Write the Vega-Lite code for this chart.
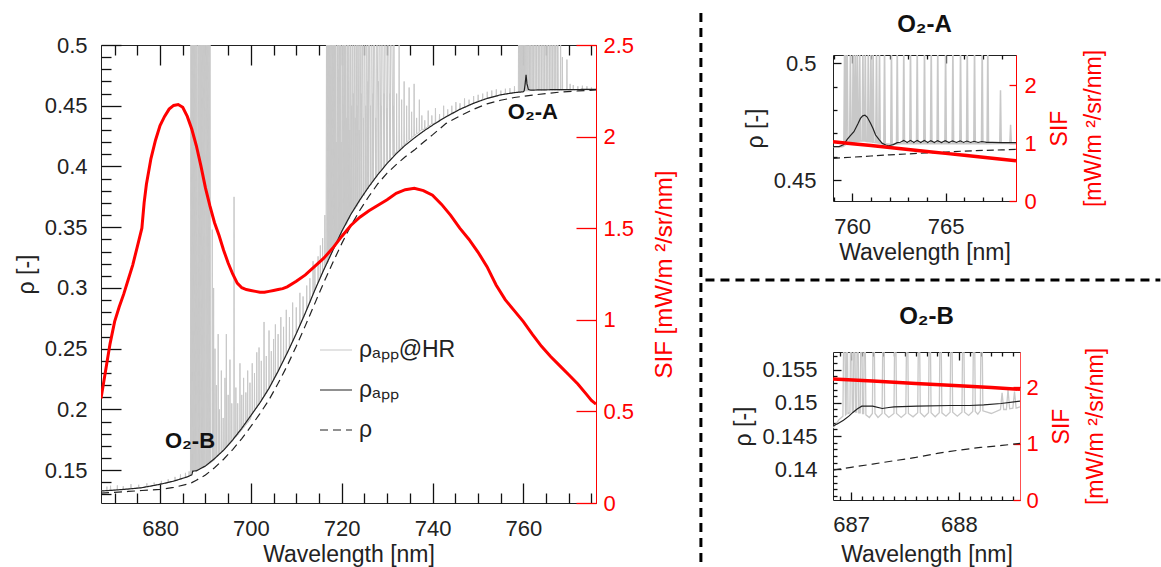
{
"$schema":"https://vega.github.io/schema/vega-lite/v6.json",
"background":"white",
"padding":{"left":14,"top":11,"right":0,"bottom":0},
"config":{"font":"Liberation Sans","view":{"stroke":"#222","strokeWidth":1},
"axis":{"labelFont":"Liberation Sans","titleFont":"Liberation Sans","labelFontSize":22,"titleFontSize":23,"labelColor":"#222","titleColor":"#222","titleFontWeight":"normal","tickColor":"#111","tickWidth":1.3,"tickOpacity":1,"grid":false,"labelFlush":false,"labelOverlap":false,"domain":false,"zindex":1},
"title":{"font":"Liberation Sans","fontSize":24,"fontWeight":"bold","color":"#111","anchor":"middle","frame":"group"}},
"datasets":{
"m_hr":[{"w":667.0,"v":0.1332},{"w":668.25,"v":0.1334},{"w":668.3,"v":0.1365},{"w":668.35,"v":0.1334},{"w":669.05,"v":0.1337},{"w":669.1,"v":0.1372},{"w":669.15,"v":0.1337},{"w":670.55,"v":0.1339},{"w":670.6,"v":0.1375},{"w":670.65,"v":0.1339},{"w":671.85,"v":0.1342},{"w":671.9,"v":0.1368},{"w":671.95,"v":0.1342},{"w":673.55,"v":0.1348},{"w":673.6,"v":0.1385},{"w":673.65,"v":0.1348},{"w":675.25,"v":0.1353},{"w":675.3,"v":0.138},{"w":675.35,"v":0.1353},{"w":677.05,"v":0.1363},{"w":677.1,"v":0.1392},{"w":677.15,"v":0.1363},{"w":678.65,"v":0.1373},{"w":678.7,"v":0.1398},{"w":678.75,"v":0.1374},{"w":680.25,"v":0.1387},{"w":680.3,"v":0.1412},{"w":680.35,"v":0.1387},{"w":681.75,"v":0.1399},{"w":681.8,"v":0.1425},{"w":681.85,"v":0.1399},{"w":683.25,"v":0.1413},{"w":683.3,"v":0.1445},{"w":683.35,"v":0.1413},{"w":684.45,"v":0.1426},{"w":684.5,"v":0.1465},{"w":684.55,"v":0.1427},{"w":685.55,"v":0.1441},{"w":685.6,"v":0.1478},{"w":685.65,"v":0.1442},{"w":686.35,"v":0.1451},{"w":686.4,"v":0.149},{"w":686.45,"v":0.1452},{"w":686.7,"v":0.1458},
{"w":686.8,"v":0.6},{"w":686.9,"v":0.148},{"w":686.95,"v":0.6},{"w":687.05,"v":0.149},{"w":687.1,"v":0.6},{"w":687.2,"v":0.149},{"w":687.25,"v":0.6},{"w":687.35,"v":0.149},{"w":687.4,"v":0.6},{"w":687.5,"v":0.1495},{"w":687.55,"v":0.6},{"w":687.65,"v":0.1495},{"w":687.72,"v":0.6},{"w":687.82,"v":0.1495},{"w":687.9,"v":0.6},{"w":688.0,"v":0.1497},{"w":688.1,"v":0.6},{"w":688.3,"v":0.15},{"w":688.4,"v":0.6},{"w":688.5,"v":0.1502},{"w":688.55,"v":0.6},{"w":688.7,"v":0.1505},{"w":688.75,"v":0.6},{"w":688.85,"v":0.151},{"w":688.95,"v":0.6},{"w":689.1,"v":0.1512},{"w":689.15,"v":0.6},{"w":689.3,"v":0.1515},{"w":689.35,"v":0.6},{"w":689.5,"v":0.152},{"w":689.55,"v":0.6},{"w":689.7,"v":0.1525},{"w":689.75,"v":0.6},{"w":689.9,"v":0.153},{"w":690.0,"v":0.6},{"w":690.15,"v":0.1535},{"w":690.2,"v":0.6},{"w":690.35,"v":0.154},{"w":690.4,"v":0.6},{"w":690.55,"v":0.1545},{"w":690.6,"v":0.6},{"w":690.75,"v":0.155},{"w":690.8,"v":0.6},{"w":690.95,"v":0.1555},{"w":691.0,"v":0.6},{"w":691.1,"v":0.156},
{"w":691.45,"v":0.1568},{"w":691.5,"v":0.348},{"w":691.55,"v":0.157},{"w":691.75,"v":0.1578},{"w":691.8,"v":0.3},{"w":691.85,"v":0.158},{"w":692.05,"v":0.1597},{"w":692.1,"v":0.25},{"w":692.15,"v":0.16},{"w":692.35,"v":0.1607},{"w":692.4,"v":0.22},{"w":692.45,"v":0.161},{"w":692.75,"v":0.1621},{"w":692.8,"v":0.262},{"w":692.85,"v":0.1623},{"w":693.05,"v":0.163},{"w":693.1,"v":0.2},{"w":693.15,"v":0.1632},{"w":693.45,"v":0.1645},{"w":693.5,"v":0.232},{"w":693.55,"v":0.1647},{"w":693.85,"v":0.166},{"w":693.9,"v":0.193},{"w":693.95,"v":0.1662},{"w":694.25,"v":0.1674},{"w":694.3,"v":0.226},{"w":694.35,"v":0.1676},{"w":694.55,"v":0.1684},{"w":694.6,"v":0.262},{"w":694.65,"v":0.1686},{"w":694.95,"v":0.1699},{"w":695.0,"v":0.212},{"w":695.05,"v":0.1701},{"w":695.35,"v":0.1716},{"w":695.4,"v":0.241},{"w":695.45,"v":0.1718},{"w":695.75,"v":0.1733},{"w":695.8,"v":0.205},{"w":695.85,"v":0.1735},{"w":696.25,"v":0.1756},{"w":696.3,"v":0.375},{"w":696.35,"v":0.1758},{"w":696.65,"v":0.1772},{"w":696.7,"v":0.218},{"w":696.75,"v":0.1774},{"w":697.05,"v":0.1789},{"w":697.1,"v":0.205},{"w":697.15,"v":0.1791},{"w":697.55,"v":0.1812},{"w":697.6,"v":0.238},{"w":697.65,"v":0.1814},{"w":697.95,"v":0.183},{"w":698.0,"v":0.212},{"w":698.05,"v":0.1833},{"w":698.35,"v":0.1849},{"w":698.4,"v":0.226},{"w":698.45,"v":0.1851},{"w":698.85,"v":0.1872},{"w":698.9,"v":0.214},{"w":698.95,"v":0.1875},{"w":699.25,"v":0.1891},{"w":699.3,"v":0.232},{"w":699.35,"v":0.1893},{"w":699.75,"v":0.1915},{"w":699.8,"v":0.222},{"w":699.85,"v":0.1917},{"w":700.25,"v":0.1963},{"w":700.3,"v":0.238},{"w":700.35,"v":0.1966},{"w":700.75,"v":0.199},{"w":700.8,"v":0.23},{"w":700.85,"v":0.1993},{"w":701.25,"v":0.2016},{"w":701.3,"v":0.247},{"w":701.35,"v":0.2019},{"w":701.75,"v":0.2043},{"w":701.8,"v":0.251},{"w":701.85,"v":0.2046},{"w":702.25,"v":0.207},{"w":702.3,"v":0.24},{"w":702.35,"v":0.2073},{"w":702.85,"v":0.2102},{"w":702.9,"v":0.272},{"w":702.95,"v":0.2105},{"w":703.35,"v":0.213},{"w":703.4,"v":0.244},{"w":703.45,"v":0.2133},{"w":703.95,"v":0.2167},{"w":704.0,"v":0.265},{"w":704.05,"v":0.2171},{"w":704.45,"v":0.22},{"w":704.5,"v":0.248},{"w":704.55,"v":0.2203},{"w":704.95,"v":0.2238},{"w":705.0,"v":0.258},{"w":705.05,"v":0.2241},{"w":705.35,"v":0.2266},{"w":705.4,"v":0.27},{"w":705.45,"v":0.2269},{"w":705.95,"v":0.2308},{"w":706.0,"v":0.262},{"w":706.05,"v":0.2311},{"w":706.55,"v":0.2355},{"w":706.6,"v":0.276},{"w":706.65,"v":0.2359},{"w":707.15,"v":0.24},{"w":707.2,"v":0.268},{"w":707.25,"v":0.2404},{"w":707.75,"v":0.2445},{"w":707.8,"v":0.282},{"w":707.85,"v":0.2449},{"w":708.45,"v":0.25},{"w":708.5,"v":0.276},{"w":708.55,"v":0.2504},{"w":709.15,"v":0.2555},{"w":709.2,"v":0.288},{"w":709.25,"v":0.2559},{"w":709.95,"v":0.262},{"w":710.0,"v":0.284},{"w":710.05,"v":0.2625},{"w":710.75,"v":0.2688},{"w":710.8,"v":0.296},{"w":710.85,"v":0.2692},{"w":711.45,"v":0.2745},{"w":711.5,"v":0.293},{"w":711.55,"v":0.275},{"w":712.25,"v":0.2817},{"w":712.3,"v":0.302},{"w":712.35,"v":0.2822},{"w":712.95,"v":0.2876},{"w":713.0,"v":0.308},{"w":713.05,"v":0.288},{"w":713.65,"v":0.2944},{"w":713.7,"v":0.322},{"w":713.75,"v":0.2949},{"w":714.05,"v":0.298},{"w":714.1,"v":0.318},{"w":714.15,"v":0.2985},{"w":714.75,"v":0.304},{"w":714.8,"v":0.326},{"w":714.85,"v":0.3045},{"w":715.25,"v":0.308},{"w":715.3,"v":0.335},{"w":715.35,"v":0.3085},{"w":715.75,"v":0.3123},{"w":715.8,"v":0.341},{"w":715.85,"v":0.3128},{"w":716.25,"v":0.3165},{"w":716.3,"v":0.36},{"w":716.35,"v":0.317},{"w":716.55,"v":0.319},
{"w":716.7,"v":0.6},{"w":716.8,"v":0.32},{"w":716.85,"v":0.6},{"w":716.95,"v":0.321},{"w":717.0,"v":0.6},{"w":717.1,"v":0.323},{"w":717.15,"v":0.55},{"w":717.25,"v":0.324},{"w":717.3,"v":0.6},{"w":717.42,"v":0.325},{"w":717.47,"v":0.6},{"w":717.6,"v":0.327},{"w":717.65,"v":0.45},{"w":717.75,"v":0.328},{"w":717.8,"v":0.6},{"w":717.92,"v":0.329},{"w":717.97,"v":0.6},{"w":718.1,"v":0.331},{"w":718.15,"v":0.5},{"w":718.25,"v":0.332},{"w":718.3,"v":0.6},{"w":718.42,"v":0.333},{"w":718.47,"v":0.6},{"w":718.6,"v":0.334},{"w":718.65,"v":0.6},{"w":718.8,"v":0.336},{"w":718.85,"v":0.42},{"w":718.95,"v":0.337},{"w":719.0,"v":0.6},{"w":719.15,"v":0.339},{"w":719.2,"v":0.6},{"w":719.35,"v":0.34},{"w":719.4,"v":0.48},{"w":719.5,"v":0.341},{"w":719.55,"v":0.6},{"w":719.7,"v":0.342},{"w":719.75,"v":0.6},{"w":719.9,"v":0.344},{"w":719.95,"v":0.42},{"w":720.05,"v":0.346},{"w":720.1,"v":0.6},{"w":720.25,"v":0.347},{"w":720.3,"v":0.6},{"w":720.45,"v":0.349},{"w":720.5,"v":0.45},{"w":720.6,"v":0.35},{"w":720.65,"v":0.6},{"w":720.8,"v":0.351},{"w":720.85,"v":0.6},{"w":721.0,"v":0.352},{"w":721.05,"v":0.44},{"w":721.15,"v":0.353},{"w":721.2,"v":0.6},{"w":721.35,"v":0.355},{"w":721.4,"v":0.47},{"w":721.5,"v":0.356},{"w":721.55,"v":0.6},{"w":721.75,"v":0.357},{"w":721.8,"v":0.43},{"w":721.9,"v":0.359},{"w":721.95,"v":0.6},{"w":722.15,"v":0.361},{"w":722.2,"v":0.45},{"w":722.3,"v":0.362},{"w":722.35,"v":0.6},{"w":722.55,"v":0.363},{"w":722.6,"v":0.46},{"w":722.7,"v":0.364},{"w":722.75,"v":0.6},{"w":722.95,"v":0.365},{"w":723.0,"v":0.44},{"w":723.1,"v":0.366},{"w":723.15,"v":0.6},{"w":723.35,"v":0.367},{"w":723.4,"v":0.45},{"w":723.5,"v":0.368},{"w":723.55,"v":0.6},{"w":723.8,"v":0.37},{"w":723.85,"v":0.43},{"w":723.95,"v":0.371},{"w":724.0,"v":0.6},{"w":724.25,"v":0.373},{"w":724.3,"v":0.46},{"w":724.4,"v":0.374},{"w":724.45,"v":0.6},{"w":724.75,"v":0.376},{"w":724.8,"v":0.44},{"w":724.9,"v":0.376},{"w":724.95,"v":0.6},{"w":725.25,"v":0.379},{"w":725.3,"v":0.45},{"w":725.4,"v":0.38},{"w":725.45,"v":0.6},{"w":725.75,"v":0.382},{"w":725.8,"v":0.47},{"w":725.9,"v":0.382},{"w":725.95,"v":0.6},{"w":726.3,"v":0.385},{"w":726.35,"v":0.45},{"w":726.45,"v":0.385},{"w":726.5,"v":0.6},{"w":726.85,"v":0.388},{"w":726.9,"v":0.46},{"w":727.0,"v":0.389},{"w":727.05,"v":0.6},{"w":727.45,"v":0.391},{"w":727.5,"v":0.44},{"w":727.6,"v":0.392},{"w":727.65,"v":0.6},{"w":728.05,"v":0.394},{"w":728.1,"v":0.47},{"w":728.2,"v":0.395},{"w":728.25,"v":0.6},{"w":728.65,"v":0.397},{"w":728.7,"v":0.45},{"w":728.8,"v":0.398},{"w":728.85,"v":0.6},{"w":729.3,"v":0.4},{"w":729.35,"v":0.46},{"w":729.45,"v":0.401},{"w":729.5,"v":0.6},{"w":729.95,"v":0.403},{"w":730.0,"v":0.448},{"w":730.1,"v":0.404},{"w":730.15,"v":0.6},{"w":730.6,"v":0.406},{"w":730.65,"v":0.46},{"w":730.75,"v":0.407},{"w":730.8,"v":0.6},{"w":731.3,"v":0.409},{"w":731.35,"v":0.45},{"w":731.45,"v":0.409},{"w":731.5,"v":0.52},{"w":731.6,"v":0.41},{"w":732.05,"v":0.412},{"w":732.1,"v":0.46},{"w":732.15,"v":0.412},{"w":732.6,"v":0.414},{"w":732.65,"v":0.5},{"w":732.7,"v":0.414},{"w":733.15,"v":0.416},{"w":733.2,"v":0.455},{"w":733.25,"v":0.416},{"w":733.7,"v":0.418},{"w":733.75,"v":0.47},{"w":733.8,"v":0.418},{"w":734.25,"v":0.42},{"w":734.3,"v":0.45},{"w":734.35,"v":0.42},{"w":734.8,"v":0.422},{"w":734.85,"v":0.465},{"w":734.9,"v":0.422},{"w":735.35,"v":0.423},{"w":735.4,"v":0.445},{"w":735.45,"v":0.424},{"w":735.9,"v":0.425},{"w":735.95,"v":0.468},{"w":736.0,"v":0.425},{"w":736.45,"v":0.427},{"w":736.5,"v":0.44},{"w":736.55,"v":0.427},{"w":737.05,"v":0.428},{"w":737.1,"v":0.455},{"w":737.15,"v":0.429},{"w":737.6,"v":0.43},{"w":737.65,"v":0.442},{"w":737.7,"v":0.43},
{"w":738.25,"v":0.431},{"w":738.3,"v":0.438},{"w":738.35,"v":0.431},{"w":739.0,"v":0.433},{"w":739.05,"v":0.446},{"w":739.1,"v":0.433},{"w":739.8,"v":0.435},{"w":739.85,"v":0.442},{"w":739.9,"v":0.435},{"w":740.6,"v":0.436},{"w":740.65,"v":0.448},{"w":740.7,"v":0.436},{"w":741.5,"v":0.438},{"w":741.55,"v":0.443},{"w":741.6,"v":0.438},{"w":742.4,"v":0.44},{"w":742.45,"v":0.45},{"w":742.5,"v":0.44},{"w":743.3,"v":0.4415},{"w":743.35,"v":0.447},{"w":743.4,"v":0.4415},{"w":744.2,"v":0.443},{"w":744.25,"v":0.45},{"w":744.3,"v":0.443},{"w":745.1,"v":0.445},{"w":745.15,"v":0.453},{"w":745.2,"v":0.445},{"w":746.0,"v":0.447},{"w":746.05,"v":0.452},{"w":746.1,"v":0.447},{"w":747.0,"v":0.4485},{"w":747.05,"v":0.456},{"w":747.1,"v":0.4485},{"w":748.0,"v":0.45},{"w":748.05,"v":0.455},{"w":748.1,"v":0.45},{"w":749.0,"v":0.452},{"w":749.05,"v":0.458},{"w":749.1,"v":0.452},{"w":750.0,"v":0.4535},{"w":750.05,"v":0.459},{"w":750.1,"v":0.4535},{"w":751.0,"v":0.455},{"w":751.05,"v":0.46},{"w":751.1,"v":0.455},{"w":752.0,"v":0.456},{"w":752.05,"v":0.4615},{"w":752.1,"v":0.456},{"w":753.0,"v":0.457},{"w":753.05,"v":0.4625},{"w":753.1,"v":0.457},{"w":754.0,"v":0.458},{"w":754.05,"v":0.4635},{"w":754.1,"v":0.458},{"w":755.0,"v":0.459},{"w":755.05,"v":0.4625},{"w":755.1,"v":0.459},{"w":756.0,"v":0.4595},{"w":756.05,"v":0.464},{"w":756.1,"v":0.4595},{"w":757.0,"v":0.46},{"w":757.05,"v":0.4645},{"w":757.1,"v":0.46},{"w":758.0,"v":0.4605},{"w":758.05,"v":0.466},{"w":758.1,"v":0.4607},{"w":758.9,"v":0.461},
{"w":759.0,"v":0.6},{"w":759.1,"v":0.461},{"w":759.2,"v":0.6},{"w":759.3,"v":0.461},{"w":759.4,"v":0.6},{"w":759.5,"v":0.4615},{"w":759.6,"v":0.6},{"w":759.7,"v":0.462},{"w":759.8,"v":0.6},{"w":759.9,"v":0.462},{"w":760.0,"v":0.6},{"w":760.1,"v":0.462},{"w":760.2,"v":0.6},{"w":760.3,"v":0.462},{"w":760.4,"v":0.6},{"w":760.55,"v":0.462},{"w":760.65,"v":0.6},{"w":760.8,"v":0.462},{"w":760.9,"v":0.6},{"w":761.05,"v":0.462},{"w":761.15,"v":0.6},{"w":761.35,"v":0.462},{"w":761.45,"v":0.6},{"w":761.65,"v":0.4625},{"w":761.75,"v":0.6},{"w":761.95,"v":0.4625},{"w":762.05,"v":0.6},{"w":762.25,"v":0.4625},{"w":762.35,"v":0.6},{"w":762.6,"v":0.4625},{"w":762.7,"v":0.6},{"w":762.95,"v":0.4625},{"w":763.05,"v":0.6},{"w":763.3,"v":0.4625},{"w":763.4,"v":0.6},{"w":763.65,"v":0.4625},{"w":763.75,"v":0.6},{"w":764.0,"v":0.4625},{"w":764.1,"v":0.6},{"w":764.35,"v":0.4625},{"w":764.45,"v":0.6},{"w":764.7,"v":0.4625},{"w":764.8,"v":0.6},{"w":765.05,"v":0.4625},{"w":765.15,"v":0.6},{"w":765.4,"v":0.4625},{"w":765.5,"v":0.6},{"w":765.75,"v":0.4625},{"w":765.85,"v":0.6},{"w":766.1,"v":0.4625},{"w":766.2,"v":0.6},{"w":766.45,"v":0.4625},{"w":766.55,"v":0.6},{"w":766.8,"v":0.4625},{"w":766.9,"v":0.6},{"w":767.15,"v":0.4625},{"w":767.25,"v":0.6},{"w":767.5,"v":0.4625},{"w":767.55,"v":0.6},{"w":767.7,"v":0.4625},{"w":768.15,"v":0.4627},{"w":768.2,"v":0.6},{"w":768.25,"v":0.4627},{"w":768.55,"v":0.4628},{"w":768.6,"v":0.49},{"w":768.65,"v":0.4628},{"w":769.55,"v":0.463},{"w":769.6,"v":0.488},{"w":769.65,"v":0.463},{"w":770.25,"v":0.463},{"w":770.3,"v":0.468},{"w":770.35,"v":0.463},{"w":770.95,"v":0.463},{"w":771.0,"v":0.467},{"w":771.05,"v":0.463},{"w":771.95,"v":0.463},{"w":772.0,"v":0.466},{"w":772.05,"v":0.463},{"w":772.95,"v":0.463},{"w":773.0,"v":0.4665},{"w":773.05,"v":0.463},{"w":773.95,"v":0.463},{"w":774.0,"v":0.466},{"w":774.05,"v":0.463},{"w":774.95,"v":0.463},{"w":775.0,"v":0.465},{"w":775.05,"v":0.463},{"w":776.0,"v":0.463}],
"m_app":[{"s":"A","w":667,"v":0.1329},{"s":"A","w":670,"v":0.1336},{"s":"A","w":673,"v":0.1345},{"s":"A","w":676,"v":0.1356},{"s":"A","w":680,"v":0.1384},{"s":"A","w":683,"v":0.141},{"s":"A","w":686,"v":0.1445},{"s":"A","w":687,"v":0.1462},{"s":"A","w":687.2,"v":0.1492},{"s":"A","w":688,"v":0.1495},{"s":"A","w":690,"v":0.1535},{"s":"A","w":692,"v":0.1595},{"s":"A","w":694,"v":0.1665},{"s":"A","w":696,"v":0.175},{"s":"A","w":698,"v":0.1845},{"s":"A","w":700,"v":0.195},{"s":"A","w":702,"v":0.2055},{"s":"A","w":704,"v":0.2175},{"s":"A","w":706,"v":0.2315},{"s":"A","w":708,"v":0.2465},{"s":"A","w":710,"v":0.2625},{"s":"A","w":712,"v":0.2795},{"s":"A","w":714,"v":0.2975},{"s":"A","w":716,"v":0.3145},{"s":"A","w":718,"v":0.3305},{"s":"A","w":720,"v":0.3465},{"s":"A","w":722,"v":0.3605},{"s":"A","w":724,"v":0.3725},{"s":"A","w":726,"v":0.3835},{"s":"A","w":728,"v":0.3935},{"s":"A","w":730,"v":0.4025},{"s":"A","w":732,"v":0.4105},{"s":"A","w":734,"v":0.4175},{"s":"A","w":736,"v":0.4235},{"s":"A","w":738,"v":0.429},{"s":"A","w":740,"v":0.434},{"s":"A","w":743,"v":0.441},{"s":"A","w":746,"v":0.447},{"s":"A","w":749,"v":0.452},{"s":"A","w":752,"v":0.456},{"s":"A","w":755,"v":0.459},{"s":"A","w":758,"v":0.4608},{"s":"A","w":760,"v":0.4615},{"s":"A","w":760.2,"v":0.4625},{"s":"A","w":760.4,"v":0.468},{"s":"A","w":760.6,"v":0.4755},{"s":"A","w":760.8,"v":0.468},{"s":"A","w":761.1,"v":0.4635},{"s":"A","w":761.6,"v":0.4628},{"s":"A","w":763,"v":0.463},{"s":"A","w":766,"v":0.4632},{"s":"A","w":770,"v":0.4633},{"s":"A","w":776,"v":0.4635}],
"m_rho":[{"s":"R","w":667,"v":0.1312},{"s":"R","w":670,"v":0.1318},{"s":"R","w":673,"v":0.1325},{"s":"R","w":676,"v":0.1333},{"s":"R","w":680,"v":0.1342},{"s":"R","w":683,"v":0.1358},{"s":"R","w":686,"v":0.1385},{"s":"R","w":687,"v":0.1398},{"s":"R","w":688,"v":0.1418},{"s":"R","w":690,"v":0.146},{"s":"R","w":692,"v":0.152},{"s":"R","w":694,"v":0.159},{"s":"R","w":696,"v":0.167},{"s":"R","w":698,"v":0.176},{"s":"R","w":700,"v":0.186},{"s":"R","w":702,"v":0.1965},{"s":"R","w":704,"v":0.208},{"s":"R","w":706,"v":0.2215},{"s":"R","w":708,"v":0.236},{"s":"R","w":710,"v":0.252},{"s":"R","w":712,"v":0.269},{"s":"R","w":714,"v":0.2865},{"s":"R","w":716,"v":0.304},{"s":"R","w":718,"v":0.3205},{"s":"R","w":720,"v":0.3365},{"s":"R","w":722,"v":0.351},{"s":"R","w":724,"v":0.364},{"s":"R","w":726,"v":0.3755},{"s":"R","w":728,"v":0.386},{"s":"R","w":730,"v":0.3945},{"s":"R","w":732,"v":0.4015},{"s":"R","w":734,"v":0.408},{"s":"R","w":736,"v":0.4135},{"s":"R","w":738,"v":0.42},{"s":"R","w":740,"v":0.426},{"s":"R","w":743,"v":0.4355},{"s":"R","w":746,"v":0.4415},{"s":"R","w":749,"v":0.447},{"s":"R","w":752,"v":0.4515},{"s":"R","w":755,"v":0.4545},{"s":"R","w":758,"v":0.4568},{"s":"R","w":760,"v":0.4578},{"s":"R","w":762,"v":0.4588},{"s":"R","w":765,"v":0.46},{"s":"R","w":768,"v":0.4612},{"s":"R","w":772,"v":0.4622},{"s":"R","w":776,"v":0.463}],
"m_sif":[{"w":667,"f":0.57},{"w":668,"f":0.72},{"w":669,"f":0.87},{"w":670,"f":0.99},{"w":671,"f":1.07},{"w":672,"f":1.14},{"w":673,"f":1.22},{"w":674,"f":1.3},{"w":675,"f":1.4},{"w":676,"f":1.5},{"w":676.5,"f":1.64},{"w":677,"f":1.74},{"w":678,"f":1.88},{"w":679,"f":1.98},{"w":680,"f":2.06},{"w":681,"f":2.11},{"w":682,"f":2.15},{"w":683,"f":2.17},{"w":684,"f":2.175},{"w":685,"f":2.16},{"w":686,"f":2.11},{"w":687,"f":2.04},{"w":688,"f":1.95},{"w":689,"f":1.84},{"w":690,"f":1.72},{"w":691,"f":1.62},{"w":692,"f":1.53},{"w":693,"f":1.46},{"w":694,"f":1.38},{"w":695,"f":1.31},{"w":696,"f":1.25},{"w":697,"f":1.2},{"w":698,"f":1.175},{"w":699,"f":1.165},{"w":700,"f":1.16},{"w":701,"f":1.155},{"w":702,"f":1.15},{"w":703,"f":1.15},{"w":704,"f":1.155},{"w":705,"f":1.16},{"w":706,"f":1.165},{"w":707,"f":1.17},{"w":708,"f":1.18},{"w":710,"f":1.21},{"w":712,"f":1.245},{"w":714,"f":1.29},{"w":716,"f":1.335},{"w":718,"f":1.39},{"w":720,"f":1.455},{"w":722,"f":1.515},{"w":724,"f":1.56},{"w":726,"f":1.595},{"w":728,"f":1.625},{"w":730,"f":1.655},{"w":732,"f":1.69},{"w":734,"f":1.71},{"w":736,"f":1.718},{"w":738,"f":1.705},{"w":740,"f":1.68},{"w":742,"f":1.63},{"w":744,"f":1.57},{"w":746,"f":1.5},{"w":748,"f":1.44},{"w":750,"f":1.37},{"w":752,"f":1.29},{"w":754,"f":1.19},{"w":756,"f":1.11},{"w":758,"f":1.05},{"w":760,"f":0.99},{"w":762,"f":0.92},{"w":764,"f":0.855},{"w":766,"f":0.8},{"w":768,"f":0.75},{"w":770,"f":0.7},{"w":772,"f":0.65},{"w":774,"f":0.59},{"w":775,"f":0.56},{"w":776,"f":0.54}],
"m_lab":[{"w":762.1,"v":0.445,"t":"O₂-A"},{"w":686.6,"v":0.174,"t":"O₂-B"}],
"a_hr":[{"w":758.97,"v":0.4643},{"w":759.45,"v":0.4643},{"w":759.55,"v":0.4645},{"w":759.59,"v":0.51},{"w":759.62,"v":0.4647},{"w":759.63,"v":0.51},{"w":759.67,"v":0.4649},{"w":759.73,"v":0.51},{"w":759.77,"v":0.4653},{"w":759.86,"v":0.4656},{"w":759.9,"v":0.51},{"w":759.94,"v":0.4658},{"w":760.01,"v":0.466},{"w":760.05,"v":0.51},{"w":760.09,"v":0.4663},{"w":760.12,"v":0.4663},{"w":760.16,"v":0.51},{"w":760.2,"v":0.4665},{"w":760.23,"v":0.4665},{"w":760.27,"v":0.51},{"w":760.31,"v":0.4666},{"w":760.36,"v":0.4666},{"w":760.4,"v":0.51},{"w":760.44,"v":0.4667},{"w":760.53,"v":0.4667},{"w":760.57,"v":0.51},{"w":760.61,"v":0.4667},{"w":760.66,"v":0.4667},{"w":760.7,"v":0.51},{"w":760.74,"v":0.4666},{"w":760.82,"v":0.4665},{"w":760.86,"v":0.51},{"w":760.9,"v":0.4665},{"w":760.96,"v":0.4664},{"w":761.0,"v":0.51},{"w":761.04,"v":0.4663},{"w":761.08,"v":0.4662},{"w":761.12,"v":0.51},{"w":761.16,"v":0.4661},{"w":761.26,"v":0.466},{"w":761.3,"v":0.51},{"w":761.34,"v":0.4659},{"w":761.42,"v":0.4658},{"w":761.46,"v":0.51},{"w":761.5,"v":0.4657},{"w":761.69,"v":0.4655},{"w":761.73,"v":0.51},{"w":761.77,"v":0.4655},{"w":762.06,"v":0.4653},{"w":762.1,"v":0.51},{"w":762.14,"v":0.4653},{"w":762.37,"v":0.4655},{"w":762.41,"v":0.51},{"w":762.45,"v":0.4655},{"w":762.72,"v":0.4656},{"w":762.76,"v":0.51},{"w":762.8,"v":0.4656},{"w":763.08,"v":0.4656},{"w":763.12,"v":0.51},{"w":763.16,"v":0.4656},{"w":763.44,"v":0.4656},{"w":763.48,"v":0.51},{"w":763.52,"v":0.4656},{"w":763.83,"v":0.4656},{"w":763.87,"v":0.51},{"w":763.91,"v":0.4656},{"w":764.19,"v":0.4656},{"w":764.23,"v":0.51},{"w":764.27,"v":0.4656},{"w":764.54,"v":0.4656},{"w":764.58,"v":0.51},{"w":764.62,"v":0.4656},{"w":764.96,"v":0.4656},{"w":765.0,"v":0.51},{"w":765.04,"v":0.4656},{"w":765.35,"v":0.4656},{"w":765.39,"v":0.51},{"w":765.43,"v":0.4656},{"w":765.76,"v":0.4656},{"w":765.8,"v":0.51},{"w":765.84,"v":0.4656},{"w":766.12,"v":0.4656},{"w":766.16,"v":0.51},{"w":766.2,"v":0.4656},{"w":766.51,"v":0.4656},{"w":766.55,"v":0.51},{"w":766.59,"v":0.4656},{"w":766.92,"v":0.4656},{"w":766.96,"v":0.51},{"w":767.0,"v":0.4656},{"w":767.22,"v":0.4656},{"w":767.26,"v":0.51},{"w":767.3,"v":0.4656},{"w":767.9,"v":0.4657},{"w":767.94,"v":0.4885},{"w":767.98,"v":0.4657},{"w":768.44,"v":0.4657},{"w":768.48,"v":0.4737},{"w":768.52,"v":0.4657},{"w":768.77,"v":0.4657}],
"a_app":[{"w":758.97,"v":0.4643},{"w":759.3,"v":0.4643},{"w":759.55,"v":0.4652},{"w":759.73,"v":0.4674},{"w":759.9,"v":0.469},{"w":760.09,"v":0.4707},{"w":760.3,"v":0.474},{"w":760.44,"v":0.4764},{"w":760.56,"v":0.4775},{"w":760.68,"v":0.4778},{"w":760.8,"v":0.477},{"w":760.98,"v":0.4743},{"w":761.12,"v":0.472},{"w":761.25,"v":0.4693},{"w":761.45,"v":0.4672},{"w":761.61,"v":0.4657},{"w":761.8,"v":0.465},{"w":761.96,"v":0.4647},{"w":762.2,"v":0.4652},{"w":762.41,"v":0.466},{"w":762.58,"v":0.4662},{"w":762.76,"v":0.467},{"w":762.94,"v":0.4661},{"w":763.12,"v":0.467},{"w":763.3,"v":0.4661},{"w":763.48,"v":0.467},{"w":763.67,"v":0.4661},{"w":763.86,"v":0.467},{"w":764.04,"v":0.4661},{"w":764.21,"v":0.4669},{"w":764.4,"v":0.4661},{"w":764.57,"v":0.4669},{"w":764.78,"v":0.4661},{"w":764.98,"v":0.4669},{"w":765.18,"v":0.4661},{"w":765.37,"v":0.4668},{"w":765.58,"v":0.4661},{"w":765.78,"v":0.4668},{"w":765.96,"v":0.4661},{"w":766.14,"v":0.4667},{"w":766.34,"v":0.4661},{"w":766.53,"v":0.4666},{"w":766.74,"v":0.4661},{"w":766.94,"v":0.4665},{"w":767.2,"v":0.4661},{"w":767.5,"v":0.4661},{"w":768.0,"v":0.466},{"w":768.77,"v":0.466}],
"a_rho":[{"w":758.97,"v":0.4593},{"w":760,"v":0.4598},{"w":761,"v":0.4603},{"w":762,"v":0.4608},{"w":763,"v":0.4612},{"w":764,"v":0.4616},{"w":765,"v":0.462},{"w":766,"v":0.4624},{"w":767,"v":0.4627},{"w":768,"v":0.4629},{"w":768.77,"v":0.4631}],
"a_sif":[{"w":758.97,"f":1.024},{"w":760,"f":0.99},{"w":761,"f":0.956},{"w":762,"f":0.922},{"w":763,"f":0.889},{"w":764,"f":0.855},{"w":765,"f":0.822},{"w":766,"f":0.788},{"w":767,"f":0.755},{"w":768,"f":0.722},{"w":768.77,"f":0.696}],
"b_hr":[{"w":686.833,"v":0.1462},{"w":686.86,"v":0.1468},{"w":686.89,"v":0.1475},{"w":686.925,"v":0.148},{"w":686.937,"v":0.17},{"w":686.949,"v":0.1482},{"w":686.955,"v":0.1483},{"w":686.962,"v":0.17},{"w":686.972,"v":0.1484},{"w":686.99,"v":0.1485},{"w":687.0,"v":0.17},{"w":687.012,"v":0.1486},{"w":687.022,"v":0.1486},{"w":687.03,"v":0.17},{"w":687.042,"v":0.1486},{"w":687.052,"v":0.1486},{"w":687.06,"v":0.17},{"w":687.072,"v":0.1485},{"w":687.085,"v":0.1485},{"w":687.095,"v":0.17},{"w":687.107,"v":0.1484},{"w":687.117,"v":0.1484},{"w":687.126,"v":0.17},{"w":687.138,"v":0.1482},{"w":687.17,"v":0.1478},{"w":687.198,"v":0.1484},{"w":687.21,"v":0.17},{"w":687.222,"v":0.1484},{"w":687.25,"v":0.1478},{"w":687.288,"v":0.1484},{"w":687.3,"v":0.17},{"w":687.312,"v":0.1484},{"w":687.35,"v":0.1478},{"w":687.398,"v":0.1484},{"w":687.41,"v":0.17},{"w":687.422,"v":0.1484},{"w":687.465,"v":0.1478},{"w":687.508,"v":0.1484},{"w":687.52,"v":0.17},{"w":687.532,"v":0.1484},{"w":687.575,"v":0.1479},{"w":687.618,"v":0.1485},{"w":687.63,"v":0.17},{"w":687.642,"v":0.1485},{"w":687.68,"v":0.1479},{"w":687.718,"v":0.1485},{"w":687.73,"v":0.17},{"w":687.742,"v":0.1485},{"w":687.78,"v":0.1479},{"w":687.818,"v":0.1485},{"w":687.83,"v":0.17},{"w":687.842,"v":0.1485},{"w":687.88,"v":0.148},{"w":687.918,"v":0.1486},{"w":687.93,"v":0.17},{"w":687.942,"v":0.1486},{"w":687.985,"v":0.148},{"w":688.028,"v":0.1486},{"w":688.04,"v":0.17},{"w":688.052,"v":0.1486},{"w":688.09,"v":0.1481},{"w":688.128,"v":0.1487},{"w":688.14,"v":0.17},{"w":688.152,"v":0.1487},{"w":688.175,"v":0.1483},{"w":688.198,"v":0.1488},{"w":688.21,"v":0.17},{"w":688.222,"v":0.1488},{"w":688.3,"v":0.1484},{"w":688.385,"v":0.149},{"w":688.4,"v":0.1515},{"w":688.415,"v":0.149},{"w":688.44,"v":0.149},{"w":688.455,"v":0.152},{"w":688.47,"v":0.1491},{"w":688.5,"v":0.1492},{"w":688.515,"v":0.1517},{"w":688.53,"v":0.1492},{"w":688.566,"v":0.1494}],
"b_app":[{"w":686.833,"v":0.14654},{"w":686.88,"v":0.1469},{"w":686.93,"v":0.1474},{"w":686.98,"v":0.148},{"w":687.02,"v":0.1486},{"w":687.06,"v":0.1491},{"w":687.1,"v":0.1495},{"w":687.2,"v":0.1495},{"w":687.29,"v":0.14915},{"w":687.35,"v":0.1493},{"w":687.4,"v":0.1494},{"w":687.61,"v":0.1495},{"w":687.92,"v":0.1496},{"w":688.1,"v":0.1496},{"w":688.23,"v":0.1497},{"w":688.39,"v":0.1499},{"w":688.566,"v":0.15025}],
"b_rho":[{"w":686.833,"v":0.1399},{"w":687.0,"v":0.1403},{"w":687.2,"v":0.1408},{"w":687.4,"v":0.1413},{"w":687.6,"v":0.1418},{"w":687.8,"v":0.1424},{"w":688.0,"v":0.1429},{"w":688.2,"v":0.1433},{"w":688.4,"v":0.1436},{"w":688.566,"v":0.1439}],
"b_sif":[{"w":686.833,"f":2.149},{"w":687.2,"f":2.115},{"w":687.6,"f":2.07},{"w":688.0,"f":2.03},{"w":688.3,"f":2.0},{"w":688.566,"f":1.966}]
},
"spacing":0,
"bounds":"full",
"hconcat":[
{
"width":495,"height":458,
"resolve":{"scale":{"y":"independent"},"axis":{"x":"independent","y":"independent"}},
"layer":[
{"data":{"name":"m_hr"},"mark":{"type":"line","clip":true,"strokeWidth":1,"color":"#c8c8c8"},
"encoding":{
"x":{"field":"w","type":"quantitative","scale":{"domain":[667,776],"nice":false,"zero":false},"axis":{"orient":"bottom","values":[680,700,720,740,760],"offset":-20,"tickSize":20,"labelPadding":15,"title":"Wavelength [nm]","titlePadding":4,"format":"d"}},
"y":{"field":"v","type":"quantitative","scale":{"domain":[0.123,0.5],"nice":false,"zero":false},"axis":{"orient":"left","values":[0.15,0.2,0.25,0.3,0.35,0.4,0.45,0.5],"offset":-20,"tickSize":20,"labelPadding":14,"title":"ρ [-]","titlePadding":6,"format":".2~f"}}}},
{"data":{"name":"m_app"},"mark":{"type":"line","clip":true,"strokeWidth":1.2},
"encoding":{
"x":{"field":"w","type":"quantitative","scale":{"domain":[667,776],"nice":false,"zero":false},"axis":{"orient":"bottom","values":[670,675,685,690,695,705,710,715,725,730,735,745,750,755,765,770,775],"offset":-10,"tickSize":10,"labels":false,"title":null}},
"y":{"field":"v","type":"quantitative","scale":{"domain":[0.123,0.5],"nice":false,"zero":false},"axis":{"orient":"left","values":[0.13,0.14,0.16,0.17,0.18,0.19,0.21,0.22,0.23,0.24,0.26,0.27,0.28,0.29,0.31,0.32,0.33,0.34,0.36,0.37,0.38,0.39,0.41,0.42,0.43,0.44,0.46,0.47,0.48,0.49],"offset":-10,"tickSize":10,"labels":false,"title":null}},
"color":{"field":"s","type":"nominal","scale":{"domain":["H","A","R"],"range":["#c8c8c8","#222222","#222222"]},"legend":{"orient":"none","legendX":218,"legendY":288,"title":null,"symbolType":"stroke","symbolSize":1024,"symbolStrokeWidth":1.2,"labelFontSize":23,"labelFont":"Liberation Sans","labelColor":"#222","rowPadding":11,"labelOffset":6,"labelExpr":"datum.label === 'H' ? 'ρₐₚₚ@HR' : datum.label === 'A' ? 'ρₐₚₚ' : 'ρ'"}},
"strokeDash":{"field":"s","type":"nominal","scale":{"domain":["H","A","R"],"range":[[1,0],[1,0],[8,5]]},"legend":{"orient":"none","legendX":218,"legendY":288,"title":null,"symbolType":"stroke","symbolSize":1024,"symbolStrokeWidth":1.2,"labelFontSize":23,"labelFont":"Liberation Sans","labelColor":"#222","rowPadding":11,"labelOffset":6,"labelExpr":"datum.label === 'H' ? 'ρₐₚₚ@HR' : datum.label === 'A' ? 'ρₐₚₚ' : 'ρ'"}}}},
{"data":{"name":"m_rho"},"mark":{"type":"line","clip":true,"strokeWidth":1.2},
"encoding":{
"x":{"field":"w","type":"quantitative","scale":{"domain":[667,776],"nice":false,"zero":false},"axis":{"orient":"top","values":[680,700,720,740,760],"offset":-20,"tickSize":20,"labels":false,"title":null}},
"y":{"field":"v","type":"quantitative","scale":{"domain":[0.123,0.5],"nice":false,"zero":false},"axis":{"orient":"right","labels":false,"ticks":false,"domain":true,"domainColor":"#ff0000","title":null}},
"color":{"field":"s","type":"nominal","scale":{"domain":["H","A","R"],"range":["#c8c8c8","#222222","#222222"]},"legend":{"orient":"none","legendX":218,"legendY":288,"title":null,"symbolType":"stroke","symbolSize":1024,"symbolStrokeWidth":1.2,"labelFontSize":23,"labelFont":"Liberation Sans","labelColor":"#222","rowPadding":11,"labelOffset":6,"labelExpr":"datum.label === 'H' ? 'ρₐₚₚ@HR' : datum.label === 'A' ? 'ρₐₚₚ' : 'ρ'"}},
"strokeDash":{"field":"s","type":"nominal","scale":{"domain":["H","A","R"],"range":[[1,0],[1,0],[8,5]]},"legend":{"orient":"none","legendX":218,"legendY":288,"title":null,"symbolType":"stroke","symbolSize":1024,"symbolStrokeWidth":1.2,"labelFontSize":23,"labelFont":"Liberation Sans","labelColor":"#222","rowPadding":11,"labelOffset":6,"labelExpr":"datum.label === 'H' ? 'ρₐₚₚ@HR' : datum.label === 'A' ? 'ρₐₚₚ' : 'ρ'"}}}},
{"data":{"name":"m_lab"},"mark":{"type":"text","fontSize":22,"fontWeight":"bold","font":"Liberation Sans","color":"#111"},
"encoding":{
"x":{"field":"w","type":"quantitative","scale":{"domain":[667,776],"nice":false,"zero":false},"axis":{"orient":"top","values":[670,675,685,690,695,705,710,715,725,730,735,745,750,755,765,770,775],"offset":-10,"tickSize":10,"labels":false,"title":null}},
"y":{"field":"v","type":"quantitative","scale":{"domain":[0.123,0.5],"nice":false,"zero":false},"axis":null},
"text":{"field":"t"}}},
{"data":{"name":"m_sif"},"mark":{"type":"line","clip":true,"strokeWidth":3,"color":"#ff0000"},
"encoding":{
"x":{"field":"w","type":"quantitative","scale":{"domain":[667,776],"nice":false,"zero":false},"axis":null},
"y":{"field":"f","type":"quantitative","scale":{"domain":[0,2.5],"nice":false,"zero":false},"axis":{"orient":"right","values":[0,0.5,1,1.5,2,2.5],"offset":-20,"tickSize":20,"tickColor":"#ff0000","labelPadding":7,"labelColor":"#ff0000","format":".1~f","title":"SIF [mW/m ²/sr/nm]","titleColor":"#ff0000","titleFontSize":24,"titleAngle":270,"titleBaseline":"top","titlePadding":19}}}},
{"data":{"values":[{}]},"mark":{"type":"rule","strokeDash":[9,6],"strokeWidth":3,"color":"#000","clip":false},
"encoding":{
"x":{"datum":799.1,"type":"quantitative","scale":{"domain":[667,776],"nice":false,"zero":false},"axis":null},
"y":{"datum":0.5263,"type":"quantitative","scale":{"domain":[0.123,0.5],"nice":false,"zero":false},"axis":null},
"y2":{"datum":0.0717}}}
]
},
{
"bounds":"full",
"spacing":2,
"vconcat":[
{"width":183,"height":1,"view":{"stroke":null},"title":{"text":"O₂-A","offset":8},"data":{"values":[]},"mark":"point","encoding":{}},
{
"bounds":"full",
"spacing":22,
"vconcat":[
{
"width":183,"height":146,
"resolve":{"scale":{"y":"independent"},"axis":{"x":"independent","y":"independent"}},
"layer":[
{"data":{"name":"a_hr"},"mark":{"type":"line","clip":true,"strokeWidth":1.5,"color":"#c8c8c8"},
"encoding":{
"x":{"field":"w","type":"quantitative","scale":{"domain":[758.97,768.77],"nice":false,"zero":false},"axis":{"orient":"bottom","values":[760,765],"offset":-8,"tickSize":8,"labelPadding":15,"title":"Wavelength [nm]","titlePadding":4,"format":"d"}},
"y":{"field":"v","type":"quantitative","scale":{"domain":[0.441,0.5036],"nice":false,"zero":false},"axis":{"orient":"left","values":[0.45,0.5],"offset":-8,"tickSize":8,"labelPadding":17,"title":"ρ [-]","titlePadding":6,"format":".2~f"}}}},
{"data":{"name":"a_app"},"mark":{"type":"line","clip":true,"strokeWidth":1.2,"color":"#222"},
"encoding":{
"x":{"field":"w","type":"quantitative","scale":{"domain":[758.97,768.77],"nice":false,"zero":false},"axis":{"orient":"bottom","values":[759,761,762,763,764,766,767,768],"offset":-4,"tickSize":4,"labels":false,"title":null}},
"y":{"field":"v","type":"quantitative","scale":{"domain":[0.441,0.5036],"nice":false,"zero":false},"axis":{"orient":"left","values":[0.46,0.47,0.48,0.49],"offset":-4,"tickSize":4,"labels":false,"title":null}}}},
{"data":{"name":"a_rho"},"mark":{"type":"line","clip":true,"strokeWidth":1.2,"color":"#222","strokeDash":[7,4]},
"encoding":{
"x":{"field":"w","type":"quantitative","scale":{"domain":[758.97,768.77],"nice":false,"zero":false},"axis":{"orient":"top","values":[760,765],"offset":-8,"tickSize":8,"labels":false,"title":null}},
"y":{"field":"v","type":"quantitative","scale":{"domain":[0.441,0.5036],"nice":false,"zero":false},"axis":{"orient":"right","labels":false,"ticks":false,"domain":true,"domainColor":"#ff0000","title":null}}}},
{"data":{"name":"a_sif"},"mark":{"type":"line","clip":true,"strokeWidth":3.5,"color":"#ff0000"},
"encoding":{
"x":{"field":"w","type":"quantitative","scale":{"domain":[758.97,768.77],"nice":false,"zero":false},"axis":{"orient":"top","values":[759,761,762,763,764,766,767,768],"offset":-4,"tickSize":4,"labels":false,"title":null}},
"y":{"field":"f","type":"quantitative","scale":{"domain":[0,2.52],"nice":false,"zero":false},"axis":{"orient":"right","values":[0,1,2],"offset":-7,"tickSize":7,"tickColor":"#ff0000","labelPadding":8,"labelColor":"#ff0000","format":"d","title":["SIF","[mW/m ²/sr/nm]"],"titleColor":"#ff0000","titleAngle":270,"titleBaseline":"top","titleLineHeight":34,"titlePadding":-22}}}},
{"data":{"values":[{}]},"mark":{"type":"rule","strokeDash":[9,6],"strokeWidth":3,"color":"#000","clip":false},
"encoding":{
"x":{"datum":752.14,"type":"quantitative","scale":{"domain":[758.97,768.77],"nice":false,"zero":false},"axis":null},
"x2":{"datum":776.5},
"y":{"datum":0.40716,"type":"quantitative","scale":{"domain":[0.441,0.5036],"nice":false,"zero":false},"axis":null}}}
]
},
{
"width":187,"height":148,
"title":{"text":"O₂-B","offset":18},
"resolve":{"scale":{"y":"independent"},"axis":{"x":"independent","y":"independent"}},
"layer":[
{"data":{"name":"b_hr"},"mark":{"type":"line","clip":true,"strokeWidth":1.3,"color":"#c8c8c8"},
"encoding":{
"x":{"field":"w","type":"quantitative","scale":{"domain":[686.833,688.566],"nice":false,"zero":false},"axis":{"orient":"bottom","values":[687,688],"offset":-8,"tickSize":8,"labelPadding":14,"title":"Wavelength [nm]","titlePadding":8,"format":"d"}},
"y":{"field":"v","type":"quantitative","scale":{"domain":[0.1354,0.15764],"nice":false,"zero":false},"axis":{"orient":"left","values":[0.14,0.145,0.15,0.155],"offset":-8,"tickSize":8,"labelPadding":16,"title":"ρ [-]","titlePadding":6,"format":".3~f"}}}},
{"data":{"name":"b_app"},"mark":{"type":"line","clip":true,"strokeWidth":1.2,"color":"#222"},
"encoding":{
"x":{"field":"w","type":"quantitative","scale":{"domain":[686.833,688.566],"nice":false,"zero":false},"axis":{"orient":"bottom","values":[686.9,687.1,687.2,687.3,687.4,687.5,687.6,687.7,687.8,687.9,688.1,688.2,688.3,688.4,688.5],"offset":-4,"tickSize":4,"labels":false,"title":null}},
"y":{"field":"v","type":"quantitative","scale":{"domain":[0.1354,0.15764],"nice":false,"zero":false},"axis":{"orient":"left","values":[0.136,0.137,0.138,0.139,0.141,0.142,0.143,0.144,0.146,0.147,0.148,0.149,0.151,0.152,0.153,0.154,0.156,0.157],"offset":-4,"tickSize":4,"labels":false,"title":null}}}},
{"data":{"name":"b_rho"},"mark":{"type":"line","clip":true,"strokeWidth":1.2,"color":"#222","strokeDash":[8,5]},
"encoding":{
"x":{"field":"w","type":"quantitative","scale":{"domain":[686.833,688.566],"nice":false,"zero":false},"axis":{"orient":"top","values":[687,688],"offset":-8,"tickSize":8,"labels":false,"title":null}},
"y":{"field":"v","type":"quantitative","scale":{"domain":[0.1354,0.15764],"nice":false,"zero":false},"axis":{"orient":"right","labels":false,"ticks":false,"domain":true,"domainColor":"#ff5050","title":null}}}},
{"data":{"name":"b_sif"},"mark":{"type":"line","clip":true,"strokeWidth":3.5,"color":"#ff0000"},
"encoding":{
"x":{"field":"w","type":"quantitative","scale":{"domain":[686.833,688.566],"nice":false,"zero":false},"axis":{"orient":"top","values":[686.9,687.1,687.2,687.3,687.4,687.5,687.6,687.7,687.8,687.9,688.1,688.2,688.3,688.4,688.5],"offset":-4,"tickSize":4,"labels":false,"title":null}},
"y":{"field":"f","type":"quantitative","scale":{"domain":[0,2.63],"nice":false,"zero":false},"axis":{"orient":"right","values":[0,1,2],"offset":-7,"tickSize":7,"tickColor":"#ff0000","labelPadding":6,"labelColor":"#ff0000","format":"d","title":["SIF","[mW/m ²/sr/nm]"],"titleColor":"#ff0000","titleAngle":270,"titleBaseline":"top","titleLineHeight":34,"titlePadding":-22}}}}
]
}
]
}
]
}
]
}
